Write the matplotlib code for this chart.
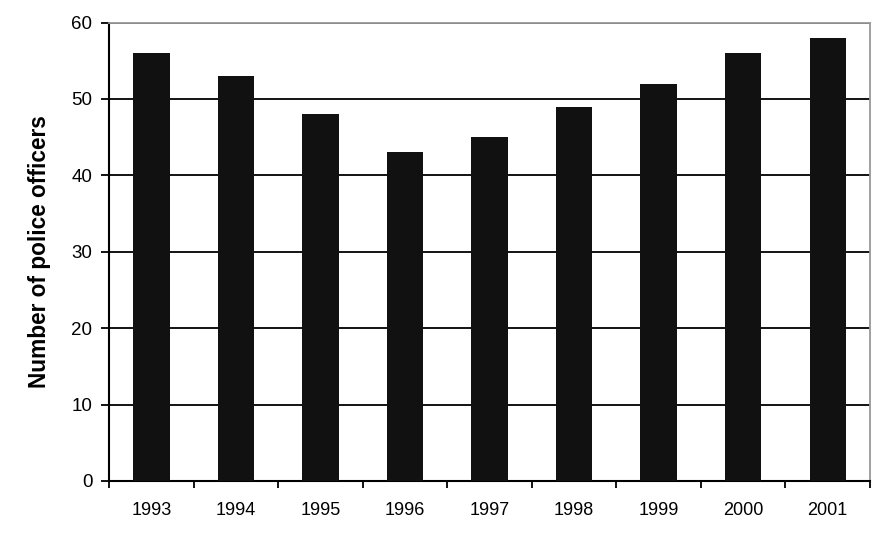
import numpy as np
import matplotlib
matplotlib.use("Agg")
import matplotlib.pyplot as plt

plt.rcParams['font.family'] = ['Liberation Sans', 'DejaVu Sans']

# data
years = ['1993', '1994', '1995', '1996', '1997', '1998', '1999', '2000', '2001']
officers = [56, 53, 48, 43, 45, 49, 52, 56, 58]

fig = plt.figure(figsize=(8.8, 5.37), dpi=100)
ax = fig.add_axes([0.124, 0.1043, 0.8646, 0.8537])

x = np.arange(len(years))
ax.bar(x, officers, width=0.43, color='#111111', zorder=3)

ax.set_xlim(-0.5, len(years) - 0.5)
ax.set_ylim(0, 60)
ax.set_yticks(np.arange(0, 61, 10))
ax.yaxis.grid(True, color='black', linewidth=1.3, zorder=0)

# x ticks between categories, labels centred on bars
ax.set_xticks(np.arange(-0.5, len(years)), minor=False)
ax.set_xticklabels([])
ax.set_xticks(x, minor=True)
ax.set_xticklabels(years, minor=True)
ax.tick_params(axis='x', which='minor', length=0, pad=15, labelsize=13, colors='black')
ax.tick_params(axis='x', which='major', length=5, width=1.3, direction='out')
ax.tick_params(axis='y', length=6, width=1.3, direction='out', labelsize=13.5, pad=6)

for s in ['left', 'bottom']:
    ax.spines[s].set_color('black')
    ax.spines[s].set_linewidth(1.5)
for s in ['top', 'right']:
    ax.spines[s].set_color('#999999')
    ax.spines[s].set_linewidth(1.3)

ax.set_ylabel('Number of police officers', fontsize=16.3, fontweight='bold', labelpad=15)

fig.savefig('out.png', dpi=100)
